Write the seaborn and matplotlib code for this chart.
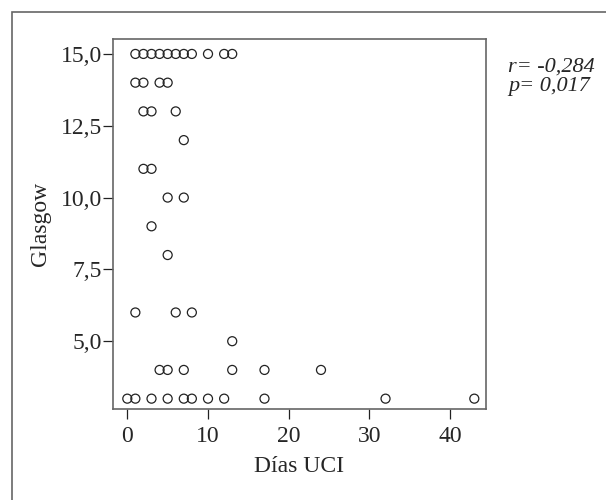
import matplotlib
matplotlib.use("Agg")
import matplotlib.pyplot as plt
import seaborn as sns
import pandas as pd
from matplotlib.patches import Rectangle

# points (overlapping cases show as one circle)
dias = [1, 2, 3, 4, 5, 6, 7, 8, 10, 12, 13,
        1, 2, 4, 5,
        2, 3, 6,
        7,
        2, 3,
        5, 7,
        3,
        5,
        1, 6, 8,
        13,
        4, 5, 7, 13, 17, 24,
        0, 1, 3, 5, 7, 8, 10, 12, 17, 32, 43]
glasgow = [15] * 11 + [14] * 4 + [13] * 3 + [12] + [11] * 2 + [10] * 2 + [9] + [8] \
    + [6] * 3 + [5] + [4] * 6 + [3] * 11

y_ticks = [5.0, 7.5, 10.0, 12.5, 15.0]
y_labels = ["5,0", "7,5", "10,0", "12,5", "15,0"]
x_ticks = [0, 10, 20, 30, 40]
stats_text = "r= -0,284\np= 0,017"

df = pd.DataFrame({"Días UCI": dias, "Glasgow": glasgow})

sns.set_style("white")
plt.rcParams["font.family"] = ["Liberation Serif", "DejaVu Serif"]

fig = plt.figure(figsize=(6.06, 5), dpi=100)
ax = fig.add_axes([0.1865, 0.182, 0.6155, 0.74])

sns.scatterplot(data=df, x="Días UCI", y="Glasgow", ax=ax, s=42,
                facecolor="none", edgecolor="#222222", linewidth=0.9)

ax.set_xlim(-1.77, 44.45)
ax.set_ylim(2.64, 15.52)
ax.set_xticks(x_ticks)
ax.set_yticks(y_ticks)
ax.set_yticklabels(y_labels)
ax.tick_params(axis="both", labelsize=17, length=7, width=0.9, color="#222222",
               direction="out", pad=1, bottom=True, left=True)
ax.tick_params(axis="x", pad=5)
ax.set_xlabel("Días UCI", fontsize=17, labelpad=7)
ax.set_ylabel("Glasgow", fontsize=17, labelpad=7)
for sp in ax.spines.values():
    sp.set_color("#666666")
    sp.set_linewidth(1.2)

fig.text(0.838, 0.846, stats_text, fontsize=16, style="italic",
         ha="left", va="center", linespacing=1.05)

# outer frame, cut at right and bottom edges
fig.patches.append(Rectangle((12 / 606, -0.1), 1.2, 1 - 12 / 500 + 0.1,
                             transform=fig.transFigure, fill=False,
                             edgecolor="#666666", linewidth=1.2))

fig.savefig("out.png", dpi=100)
